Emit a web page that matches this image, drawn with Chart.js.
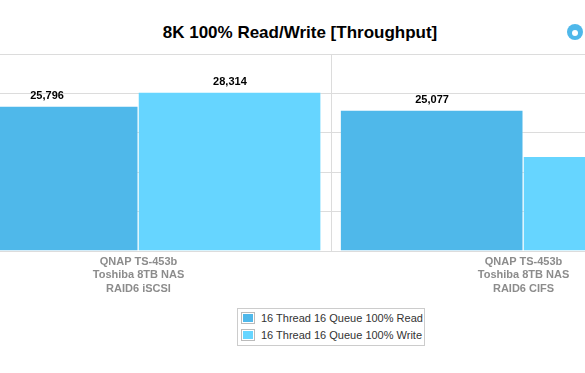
<!DOCTYPE html>
<html>
<head>
<meta charset="utf-8">
<script src="https://cdn.jsdelivr.net/npm/chart.js@4/dist/chart.umd.min.js"></script>
<style>
  html, body { margin: 0; padding: 0; background: #fff; overflow: hidden; }
  body { width: 585px; height: 373px; position: relative; font-family: "Liberation Sans", Arial, sans-serif; }
  #title { position: absolute; left: 0; width: 600px; top: 23px; text-align: center; font-weight: bold; font-size: 17px; line-height: 20px; color: #000; }
  #logo { position: absolute; left: 567px; top: 24px; width: 16px; height: 16px; border-radius: 50%; background: #4fb8ea; }
  #logo:after { content: ""; position: absolute; left: 5px; top: 6px; width: 6px; height: 6px; border-radius: 50%; background: #fff; }
  #chart { position: absolute; left: -54px; top: 0; }
  #legend { position: absolute; left: 237px; top: 308px; width: 186px; height: 35px; border: 1px solid #ccc; padding-top: 1px; }
  .item { height: 17px; line-height: 17px; font-size: 11px; color: #333; white-space: nowrap; }
  .box { display: inline-block; vertical-align: middle; width: 12px; height: 10px; margin: -2px 6px 0 3px; border: 1px solid #bbb; box-shadow: inset 0 0 0 1px #fff; }
</style>
</head>
<body>
<div id="title">8K 100% Read/Write [Throughput]</div>
<div id="logo"></div>
<canvas id="chart" width="770" height="300"></canvas>
<div id="legend"></div>
<script>
  // dados
  var categories = [
    ["QNAP TS-453b", "Toshiba 8TB NAS", "RAID6 iSCSI"],
    ["QNAP TS-453b", "Toshiba 8TB NAS", "RAID6 CIFS"]
  ];
  var seriesNames = ["16 Thread 16 Queue 100% Read", "16 Thread 16 Queue 100% Write"];
  var readValues = [25796, 25077];
  var writeValues = [28314, 16890];
  var seriesColors = ["#4fb8ea", "#66d5ff"];
  var yMax = 35000;
  var yStep = 7000;

  // escreve o valor em cima de cada barra
  var valueLabels = {
    id: 'valueLabels',
    afterDatasetsDraw: function(chart){
      var ctx = chart.ctx;
      ctx.save();
      ctx.font = 'bold 11px "Liberation Sans", Arial, sans-serif';
      ctx.fillStyle = '#000';
      ctx.textAlign = 'center';
      ctx.textBaseline = 'alphabetic';
      chart.data.datasets.forEach(function(ds, i){
        chart.getDatasetMeta(i).data.forEach(function(bar, j){
          ctx.fillText(ds.data[j].toLocaleString('en-US'), bar.x, bar.y - 7);
        });
      });
      ctx.restore();
    }
  };

  var chart = new Chart(document.getElementById('chart'), {
    type: 'bar',
    data: {
      labels: categories,
      datasets: [
        { label: seriesNames[0], data: readValues, backgroundColor: seriesColors[0] },
        { label: seriesNames[1], data: writeValues, backgroundColor: seriesColors[1] }
      ]
    },
    options: {
      responsive: false,
      animation: false,
      devicePixelRatio: 1,
      layout: { padding: { top: 54, left: 0, right: 0, bottom: 0 } },
      datasets: {
        bar: {
          categoryPercentage: 0.95,
          barPercentage: 1.0,
          borderWidth: { top: 1, right: 1 },
          borderColor: 'rgba(255,255,255,0.35)',
          borderSkipped: 'bottom'
        }
      },
      plugins: {
        legend: { display: false },
        title: { display: false },
        tooltip: { enabled: false }
      },
      scales: {
        x: {
          offset: true,
          grid: { color: '#dcdcdc', drawTicks: false, offset: true },
          border: { color: '#dcdcdc' },
          ticks: {
            color: '#8c8c8c',
            padding: 4,
            maxRotation: 0,
            autoSkip: false,
            font: { family: '"Liberation Sans", Arial, sans-serif', size: 11, weight: 'bold', lineHeight: 1.23 }
          },
          afterFit: function(s){ s.height = 300 - 251; }
        },
        y: {
          min: 0,
          max: yMax,
          grid: { color: '#dcdcdc', drawTicks: false },
          border: { display: false },
          ticks: { display: false, stepSize: yStep },
          afterFit: function(s){ s.width = 0; }
        }
      }
    },
    plugins: [valueLabels]
  });

  // legenda em html, montada a partir dos datasets
  var legendEl = document.getElementById('legend');
  chart.data.datasets.forEach(function(ds){
    var row = document.createElement('div');
    row.className = 'item';
    var box = document.createElement('span');
    box.className = 'box';
    box.style.background = ds.backgroundColor;
    row.appendChild(box);
    row.appendChild(document.createTextNode(ds.label));
    legendEl.appendChild(row);
  });
</script>
</body>
</html>
